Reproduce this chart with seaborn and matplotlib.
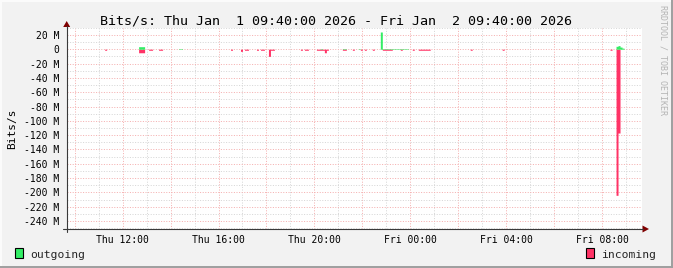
import matplotlib
matplotlib.use("Agg")
import matplotlib.pyplot as plt
import matplotlib.dates as mdates
import matplotlib.ticker as mticker
from matplotlib.patches import Rectangle, Polygon
from matplotlib.lines import Line2D
import seaborn as sns
import pandas as pd

# ---------------- data (Mbit/s), 5-minute samples ----------------
title = "Bits/s: Thu Jan  1 09:40:00 2026 - Fri Jan  2 09:40:00 2026"
series_names = ["outgoing", "incoming"]

in_start = ["11:15", "12:40", "13:05", "13:30", "16:30", "16:55", "17:05", "17:35",
            "17:45", "18:05", "18:10", "19:25", "19:35", "20:05", "20:25", "20:30",
            "21:10", "21:35", "21:55", "22:05", "22:25", "22:50", "23:35", "00:05",
            "00:20", "02:30", "03:50", "08:20", "08:35", "08:40"]
in_end = ["11:20", "12:55", "13:15", "13:40", "16:35", "17:00", "17:15", "17:40",
          "17:55", "18:10", "18:20", "19:30", "19:45", "20:25", "20:30", "20:35",
          "21:20", "21:40", "22:00", "22:10", "22:30", "23:15", "23:40", "00:10",
          "00:50", "02:35", "03:55", "08:25", "08:40", "08:45"]
in_value = [1.5, 5, 1.5, 1.5, 1.5, 3, 1.5, 1.5,
            1.5, 10, 1.5, 1.5, 1.5, 1.5, 5, 1.5,
            1.5, 1.5, 1.5, 1.5, 1.5, 1.5, 1.5, 1.5,
            1.5, 1.5, 1.5, 1.5, 204, 117]

out_start = ["12:40", "14:20", "20:15", "21:10", "21:50", "22:45", "22:50",
             "08:35", "08:40", "08:45", "08:50"]
out_end = ["12:55", "14:30", "20:20", "21:20", "21:55", "22:50", "23:55",
           "08:40", "08:45", "08:50", "08:55"]
out_value = [3.5, 0.7, 0.7, 0.7, 0.7, 24, 0.7, 4, 5, 3, 1.5]

y_ticks = [20, 0, -20, -40, -60, -80, -100, -120, -140, -160, -180, -200, -220, -240]

# ---------------- style ----------------
BG = "#F2F2F2"
OUT_C = "#33EE66"
IN_C = "#FF3366"
MGRID = "#F5B0B0"
GRID = "#D6D6D6"
AXIS = "#3A3A3A"
ARROW = "#7F0000"

sns.set_theme(style="white")
plt.rcParams["font.family"] = ["DejaVu Sans Mono", "DejaVu Sans"]

start = pd.Timestamp("2026-01-01 09:40")
end = start + pd.Timedelta(hours=24)
idx = pd.date_range(start, end, freq="5min")


def to_ts(s):
    t = pd.Timestamp("2026-01-01 " + s)
    if t < start:
        t += pd.Timedelta(days=1)
    return t


def build(starts, ends, vals, sign):
    ser = pd.Series(0.0, index=idx)
    for s, e, v in zip(starts, ends, vals):
        ser[(idx >= to_ts(s)) & (idx < to_ts(e))] = sign * v
    return ser


incoming = build(in_start, in_end, in_value, -1)
outgoing = build(out_start, out_end, out_value, 1)
df = pd.DataFrame({"time": idx, "outgoing": outgoing.values, "incoming": incoming.values})

W, H = 673, 268
fig = plt.figure(figsize=(W / 100, H / 100), dpi=100, facecolor=BG)
L, R, T, B = 66.7, 642, 27.7, 229
ax = fig.add_axes([L / W, 1 - B / H, (R - L) / W, (B - T) / H])
ax.set_facecolor("white")

ax.fill_between(df["time"], df["incoming"], 0, step="post", color=IN_C, lw=0, zorder=3)
ax.fill_between(df["time"], df["outgoing"], 0, step="post", color=OUT_C, lw=0, zorder=3)

ax.set_xlim(start, end)
ax.set_ylim(-251, 30)

ax.xaxis.set_major_locator(mdates.HourLocator(byhour=range(0, 24, 2)))
ax.xaxis.set_minor_locator(mdates.HourLocator(byhour=range(1, 24, 2)))


def xfmt(v, pos):
    d = mdates.num2date(v)
    return d.strftime("%a %H:%M") if d.hour % 4 == 0 else ""


ax.xaxis.set_major_formatter(mticker.FuncFormatter(xfmt))
ax.yaxis.set_major_locator(mticker.FixedLocator(y_ticks))
ax.yaxis.set_minor_locator(mticker.MultipleLocator(10))
ax.yaxis.set_major_formatter(mticker.FuncFormatter(
    lambda v, p: "0" if abs(v) < 1e-9 else f"{int(round(v))} M"))

ax.set_axisbelow(True)
ax.grid(which="major", color=MGRID, ls=(0, (1, 1.6)), lw=0.72)
ax.grid(which="minor", color=GRID, ls=(0, (1, 1.6)), lw=0.72)
for s in ax.spines.values():
    s.set_visible(False)

ax.tick_params(axis="x", which="major", length=3, width=0.72, color=MGRID, pad=1.5,
               labelsize=7, labelcolor="black")
ax.tick_params(axis="x", which="minor", length=0)
ax.tick_params(axis="y", which="major", length=2, width=0.72, color=MGRID, pad=3.5,
               labelsize=7, labelcolor="black")
ax.tick_params(axis="y", which="minor", length=2, width=0.72, color=GRID)


def fx(x):
    return x / W


def fy(y):
    return 1 - y / H


# axis lines and arrows
fig.add_artist(Line2D([fx(63), fx(643)], [fy(B), fy(B)], color=AXIS, lw=0.8))
fig.add_artist(Line2D([fx(L), fx(L)], [fy(232), fy(26)], color=AXIS, lw=0.8))
fig.add_artist(Polygon([(fx(L), fy(21)), (fx(L - 3.5), fy(27)), (fx(L + 3.5), fy(27))],
                       closed=True, color=ARROW, lw=0))
fig.add_artist(Polygon([(fx(649), fy(B)), (fx(642.5), fy(B - 3.5)), (fx(642.5), fy(B + 3.5))],
                       closed=True, color=ARROW, lw=0))

# title, axis label, watermark
fig.text(fx(336), fy(24), title, ha="center", va="baseline", fontsize=9.6, color="black")
fig.text(fx(12), fy(129), "Bits/s", rotation=90, ha="center", va="center", fontsize=8,
         color="black")
fig.text(fx(663), fy(5), "RRDTOOL / TOBI OETIKER", rotation=270, ha="center", va="top",
         fontsize=6.0, color="#B4B4B4")

# legend
fig.add_artist(Rectangle((fx(15), fy(258)), 8 / W, 10 / H, facecolor=OUT_C,
                         edgecolor="black", lw=0.8))
fig.text(fx(30), fy(257.5), series_names[0], ha="left", va="baseline", fontsize=8.2)
fig.add_artist(Rectangle((fx(586), fy(258)), 8 / W, 10 / H, facecolor=IN_C,
                         edgecolor="black", lw=0.8))
fig.text(fx(601), fy(257.5), series_names[1], ha="left", va="baseline", fontsize=8.2)

# shaded frame
fig.add_artist(Line2D([0, 1], [fy(0.5), fy(0.5)], color="#FCFCFC", lw=1.4))
fig.add_artist(Line2D([fx(0.5), fx(0.5)], [0, 1], color="#FCFCFC", lw=1.4))
fig.add_artist(Line2D([0, 1], [fy(267), fy(267)], color="#9E9E9E", lw=1.4))
fig.add_artist(Line2D([fx(672), fx(672)], [0, 1], color="#9E9E9E", lw=1.4))

fig.savefig("out.png", dpi=100, facecolor=BG)
